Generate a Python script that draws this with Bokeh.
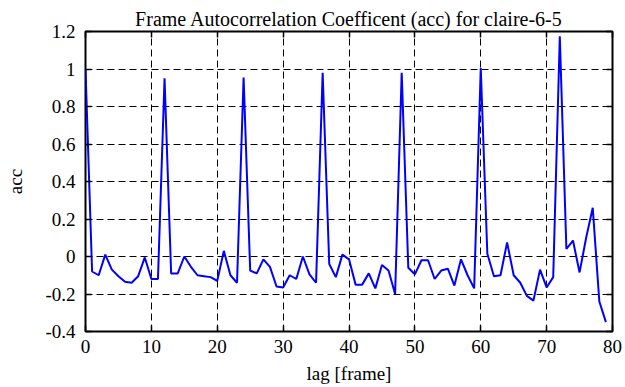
from bokeh.plotting import figure
from bokeh.models import FixedTicker, LinearAxis, Range1d
from bokeh.embed import file_html
from bokeh.resources import INLINE

# ---- data ----
lags = list(range(80))
acc = [1.0, -0.08, -0.10, 0.01, -0.07, -0.105, -0.135, -0.14, -0.105, -0.005,
       -0.12, -0.12, 0.95, -0.09, -0.09, 0.0, -0.055, -0.10, -0.105, -0.11,
       -0.13, 0.03, -0.10, -0.14, 0.955, -0.075, -0.09, -0.015, -0.055, -0.16,
       -0.165, -0.10, -0.12, 0.0, -0.095, -0.14, 0.98, -0.04, -0.11, 0.01,
       -0.015, -0.15, -0.15, -0.09, -0.17, -0.045, -0.075, -0.2, 0.98, -0.06,
       -0.095, -0.02, -0.02, -0.12, -0.075, -0.065, -0.155, -0.015, -0.10, -0.17,
       1.005, 0.015, -0.105, -0.10, 0.075, -0.10, -0.14, -0.21, -0.235, -0.07,
       -0.165, -0.11, 1.175, 0.04, 0.085, -0.085, 0.1, 0.26, -0.24, -0.35]
x_ticks = [0, 10, 20, 30, 40, 50, 60, 70, 80]
x_tick_labels = ["0", "10", "20", "30", "40", "50", "60", "70", "80"]
y_ticks = [-0.4, -0.2, 0.0, 0.2, 0.4, 0.6, 0.8, 1.0, 1.2]
y_tick_labels = ["-0.4", "-0.2", "0", "0.2", "0.4", "0.6", "0.8", "1", "1.2"]
title = "Frame Autocorrelation Coefficent (acc) for claire-6-5"
x_label = "lag [frame]"
y_label = "acc"

FONT = "Liberation Serif"

p = figure(frame_width=527, frame_height=300, output_backend="svg",
           toolbar_location=None,
           x_range=Range1d(0, 80), y_range=Range1d(-0.4, 1.2),
           min_border_left=85, min_border_right=13, min_border_top=31,
           min_border_bottom=56, title=title)

p.title.text_font = FONT
p.title.text_font_size = "20px"
p.title.text_font_style = "normal"
p.title.align = "center"
p.title.vertical_align = "top"
p.title.text_color = "black"
p.title.standoff = 0
p.title.offset = 0

p.line(lags, acc, line_color="#0000ff", line_width=2)

p.outline_line_color = "black"
p.outline_line_width = 2
p.outline_line_alpha = 1.0

for ax in list(p.xaxis) + list(p.yaxis):
    ax.axis_line_color = None
    ax.major_tick_in = 6
    ax.major_tick_out = 0
    ax.major_tick_line_width = 1.5
    ax.minor_tick_line_color = None
    ax.major_label_text_font = FONT
    ax.major_label_text_font_size = "19px"
    ax.major_label_text_color = "black"
    ax.axis_label_text_font = FONT
    ax.axis_label_text_font_size = "19px"
    ax.axis_label_text_font_style = "normal"
    ax.axis_label_text_color = "black"

xa = p.xaxis[0]
xa.ticker = FixedTicker(ticks=x_ticks)
xa.major_label_overrides = {t: l for t, l in zip(x_ticks, x_tick_labels)}
xa.axis_label = x_label
xa.axis_label_standoff = 7
xa.major_label_standoff = 8

ya = p.yaxis[0]
ya.ticker = FixedTicker(ticks=y_ticks)
ya.major_label_overrides = {t: l for t, l in zip(y_ticks, y_tick_labels)}
ya.axis_label = y_label
ya.axis_label_standoff = 16
ya.major_label_standoff = 10

# mirror ticks on top and right (no labels); the top axis spacing lifts the title
top = LinearAxis(ticker=FixedTicker(ticks=x_ticks), axis_line_color=None,
                 major_tick_in=6, major_tick_out=0, major_tick_line_width=1.5,
                 minor_tick_line_color=None,
                 major_label_overrides={t: "" for t in x_ticks},
                 major_label_standoff=7)
right = LinearAxis(ticker=FixedTicker(ticks=y_ticks), axis_line_color=None,
                   major_tick_in=6, major_tick_out=0, major_tick_line_width=1.5,
                   minor_tick_line_color=None,
                   major_label_overrides={t: "" for t in y_ticks},
                   major_label_standoff=0)
p.add_layout(top, "above")
p.add_layout(right, "right")

p.xgrid.ticker = FixedTicker(ticks=x_ticks)
p.ygrid.ticker = FixedTicker(ticks=y_ticks)
for g in (p.xgrid, p.ygrid):
    g.grid_line_color = "black"
    g.grid_line_dash = "7 4"
    g.grid_line_width = 1

open("out.html", "w").write(file_html(p, INLINE))
